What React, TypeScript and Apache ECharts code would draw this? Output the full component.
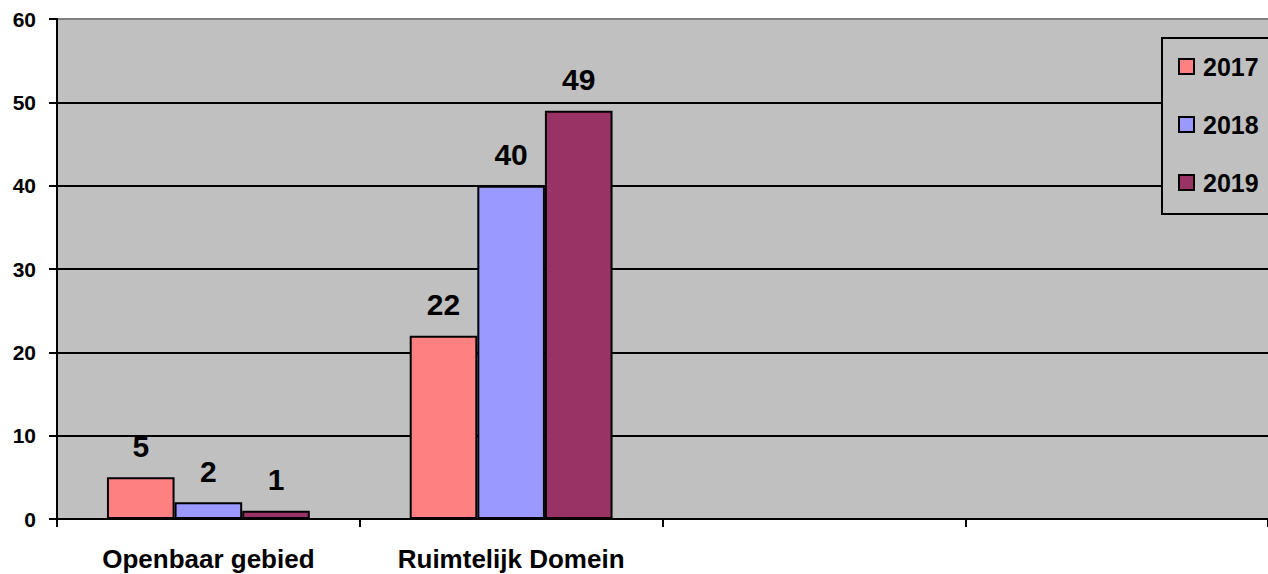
import React, { useEffect, useRef } from "react";
import * as echarts from "echarts";

const categories = ["Openbaar gebied", "Ruimtelijk Domein", "", ""];
const seriesNames = ["2017", "2018", "2019"];
const values2017 = [5, 22];
const values2018 = [2, 40];
const values2019 = [1, 49];
const seriesColors = ["#FF8080", "#9999FF", "#993366"];

const FONT = 'Arial, "Liberation Sans", sans-serif';

export default function App() {
  const ref = useRef<HTMLDivElement>(null);
  useEffect(() => {
    document.body.style.margin = "0";
    const chart = echarts.init(ref.current!, null, { renderer: "svg" });
    const data = [values2017, values2018, values2019];
    chart.setOption({
      animation: false,
      backgroundColor: "#ffffff",
      grid: {
        left: 57,
        right: 0,
        top: 19,
        bottom: 55,
        show: true,
        backgroundColor: "#C0C0C0",
        borderWidth: 0,
      },
      legend: {
        orient: "vertical",
        left: 1162,
        top: 38,
        data: seriesNames,
        icon: "rect",
        itemWidth: 15,
        itemHeight: 15,
        itemGap: 33,
        padding: [16, 40, 19, 16],
        backgroundColor: "#C0C0C0",
        borderColor: "#000000",
        borderWidth: 2,
        borderRadius: 0,
        itemStyle: { borderColor: "#000000", borderWidth: 2 },
        textStyle: {
          fontFamily: FONT,
          fontWeight: "bold",
          fontSize: 25,
          lineHeight: 25,
          color: "#000000",
          padding: [0, 0, 0, 4],
        },
      },
      xAxis: {
        type: "category",
        data: categories,
        boundaryGap: true,
        axisLine: { show: true, lineStyle: { color: "#000000", width: 2 } },
        axisTick: { show: true, length: 8, lineStyle: { color: "#000000", width: 2 } },
        axisLabel: {
          interval: 0,
          margin: 27,
          fontFamily: FONT,
          fontWeight: "bold",
          fontSize: 26,
          color: "#000000",
        },
        splitLine: { show: false },
      },
      yAxis: {
        type: "value",
        min: 0,
        max: 60,
        interval: 10,
        axisLine: { show: true, lineStyle: { color: "#000000", width: 2 } },
        axisTick: { show: true, length: 8, lineStyle: { color: "#000000", width: 2 } },
        axisLabel: {
          margin: 21,
          fontFamily: FONT,
          fontWeight: "bold",
          fontSize: 21,
          color: "#000000",
        },
        splitLine: {
          show: true,
          lineStyle: {
            color: ["#000000", "#000000", "#000000", "#000000", "#000000", "#000000", "#808080"],
            width: 2,
          },
        },
      },
      series: seriesNames.map((name, i) => ({
        name,
        type: "bar",
        data: data[i],
        barGap: "0%",
        barCategoryGap: "33%",
        itemStyle: { color: seriesColors[i], borderColor: "#000000", borderWidth: 2 },
        label: {
          show: true,
          position: "top",
          distance: 16,
          fontFamily: FONT,
          fontWeight: "bold",
          fontSize: 30,
          color: "#000000",
        },
      })),
    });
    return () => chart.dispose();
  }, []);
  return <div ref={ref} style={{ width: 1268, height: 574 }} />;
}
